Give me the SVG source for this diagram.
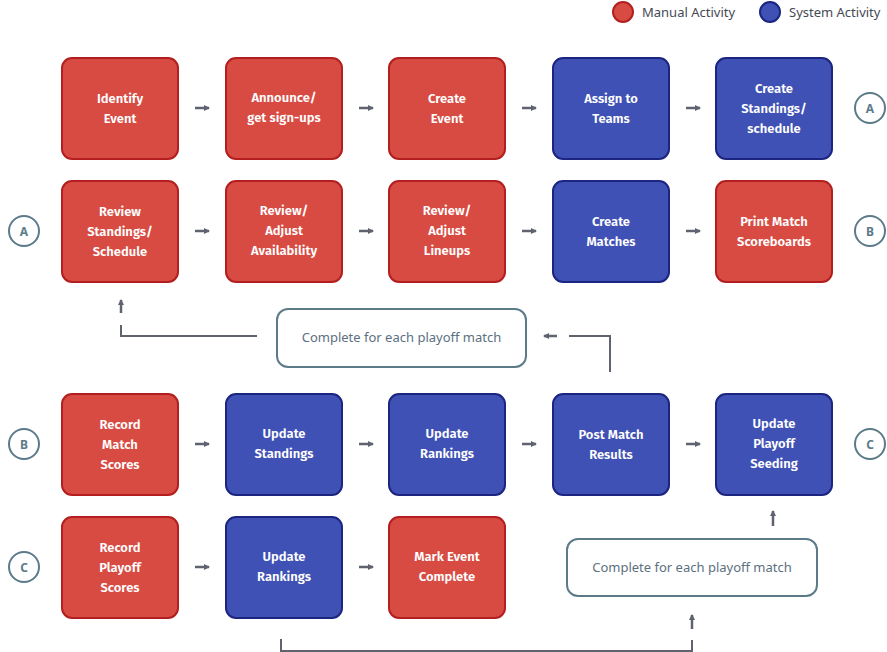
<svg xmlns="http://www.w3.org/2000/svg" width="887" height="652" viewBox="0 0 887 652">
<style>
.bg{fill:#ffffff}
.man{fill:#d84b43;stroke:#b31f1f;stroke-width:2}
.sys{fill:#3f51b5;stroke:#1c2580;stroke-width:2}
.nt{font-family:"Fira Sans","Noto Sans","Open Sans",sans-serif;font-size:13px;font-weight:600;fill:#ffffff;text-anchor:middle}
.circ{fill:#ffffff;stroke:#5c7b89;stroke-width:2}
.ct{font-family:"Noto Sans","Open Sans",sans-serif;font-size:12px;font-weight:700;fill:#5c7b89;text-anchor:middle}
.note{fill:#ffffff;stroke:#5c7b89;stroke-width:2}
.ntx{font-family:"Noto Sans","Open Sans",sans-serif;font-size:13px;fill:#5c7080;text-anchor:middle}
.line{fill:none;stroke:#5f6370;stroke-width:2}
.arr{fill:none;stroke:#5f6370;stroke-width:2.5;marker-end:url(#ah)}
.leg{font-family:"Noto Sans","Open Sans",sans-serif;font-size:13px;fill:#444a55}
</style>
<defs>
<marker id="ah" viewBox="0 0 6 6" refX="5" refY="3" markerWidth="2.4" markerHeight="2.4" orient="auto" markerUnits="strokeWidth">
<path d="M0,0 L6,3 L0,6 Z" fill="#5f6370"/>
</marker>
</defs>
<rect class="bg" width="887" height="652"/>
<g id="legend">
<circle cx="623" cy="12" r="10" class="man"/>
<text x="642" y="16.5" class="leg">Manual Activity</text>
<circle cx="770" cy="12" r="10" class="sys"/>
<text x="789" y="16.5" class="leg">System Activity</text>
</g>
<g id="connectors">
<path class="arr" d="M195,108 H209"/>
<path class="arr" d="M359,108 H373"/>
<path class="arr" d="M522,108 H536"/>
<path class="arr" d="M686,108 H700"/>
<path class="arr" d="M195,231 H209"/>
<path class="arr" d="M359,231 H373"/>
<path class="arr" d="M522,231 H536"/>
<path class="arr" d="M686,231 H700"/>
<path class="arr" d="M195,444 H209"/>
<path class="arr" d="M359,444 H373"/>
<path class="arr" d="M522,444 H536"/>
<path class="arr" d="M686,444 H700"/>
<path class="arr" d="M195,567 H209"/>
<path class="arr" d="M359,567 H373"/>
<path class="line" d="M257,336 H121 V325"/>
<path class="arr" d="M121,313 V300"/>
<path class="line" d="M610,372 V336 H569"/>
<path class="arr" d="M557,336 H544"/>
<path class="line" d="M281,639 V651 H692 V640"/>
<path class="arr" d="M692,629 V615"/>
<path class="arr" d="M773,526 V511"/>
</g>
<g id="n1"><rect x="62" y="58" width="116" height="101" rx="10" class="man"/><text class="nt" x="120" y="103">Identify</text><text class="nt" x="120" y="123">Event</text></g>
<g id="n2"><rect x="226" y="58" width="116" height="101" rx="10" class="man"/><text class="nt" x="284" y="102">Announce/</text><text class="nt" x="284" y="122">get sign-ups</text></g>
<g id="n3"><rect x="389" y="58" width="116" height="101" rx="10" class="man"/><text class="nt" x="447" y="103">Create</text><text class="nt" x="447" y="123">Event</text></g>
<g id="n4"><rect x="553" y="58" width="116" height="101" rx="10" class="sys"/><text class="nt" x="611" y="103">Assign to</text><text class="nt" x="611" y="123">Teams</text></g>
<g id="n5"><rect x="716" y="58" width="116" height="101" rx="10" class="sys"/><text class="nt" x="774" y="93">Create</text><text class="nt" x="774" y="113">Standings/</text><text class="nt" x="774" y="133">schedule</text></g>
<g id="cA1"><circle cx="870" cy="108" r="15" class="circ"/><text class="ct" x="870" y="112.5">A</text></g>
<g id="cA2"><circle cx="24" cy="231" r="15" class="circ"/><text class="ct" x="24" y="235.5">A</text></g>
<g id="n6"><rect x="62" y="181" width="116" height="101" rx="10" class="man"/><text class="nt" x="120" y="216">Review</text><text class="nt" x="120" y="236">Standings/</text><text class="nt" x="120" y="256">Schedule</text></g>
<g id="n7"><rect x="226" y="181" width="116" height="101" rx="10" class="man"/><text class="nt" x="284" y="215">Review/</text><text class="nt" x="284" y="235">Adjust</text><text class="nt" x="284" y="255">Availability</text></g>
<g id="n8"><rect x="389" y="181" width="116" height="101" rx="10" class="man"/><text class="nt" x="447" y="215">Review/</text><text class="nt" x="447" y="235">Adjust</text><text class="nt" x="447" y="255">Lineups</text></g>
<g id="n9"><rect x="553" y="181" width="116" height="101" rx="10" class="sys"/><text class="nt" x="611" y="226">Create</text><text class="nt" x="611" y="246">Matches</text></g>
<g id="n10"><rect x="716" y="181" width="116" height="101" rx="10" class="man"/><text class="nt" x="774" y="226">Print Match</text><text class="nt" x="774" y="246">Scoreboards</text></g>
<g id="cB1"><circle cx="870" cy="231" r="15" class="circ"/><text class="ct" x="870" y="235.5">B</text></g>
<g id="note1"><rect x="277" y="309" width="249" height="58" rx="11" class="note"/><text class="ntx" x="401.5" y="342">Complete for each playoff match</text></g>
<g id="cB2"><circle cx="24" cy="444" r="15" class="circ"/><text class="ct" x="24" y="448.5">B</text></g>
<g id="n11"><rect x="62" y="394" width="116" height="101" rx="10" class="man"/><text class="nt" x="120" y="429">Record</text><text class="nt" x="120" y="449">Match</text><text class="nt" x="120" y="469">Scores</text></g>
<g id="n12"><rect x="226" y="394" width="116" height="101" rx="10" class="sys"/><text class="nt" x="284" y="438">Update</text><text class="nt" x="284" y="458">Standings</text></g>
<g id="n13"><rect x="389" y="394" width="116" height="101" rx="10" class="sys"/><text class="nt" x="447" y="438">Update</text><text class="nt" x="447" y="458">Rankings</text></g>
<g id="n14"><rect x="553" y="394" width="116" height="101" rx="10" class="sys"/><text class="nt" x="611" y="439">Post Match</text><text class="nt" x="611" y="459">Results</text></g>
<g id="n15"><rect x="716" y="394" width="116" height="101" rx="10" class="sys"/><text class="nt" x="774" y="428">Update</text><text class="nt" x="774" y="448">Playoff</text><text class="nt" x="774" y="468">Seeding</text></g>
<g id="cC1"><circle cx="870" cy="444" r="15" class="circ"/><text class="ct" x="870" y="448.5">C</text></g>
<g id="cC2"><circle cx="24" cy="567" r="15" class="circ"/><text class="ct" x="24" y="571.5">C</text></g>
<g id="n16"><rect x="62" y="517" width="116" height="101" rx="10" class="man"/><text class="nt" x="120" y="552">Record</text><text class="nt" x="120" y="572">Playoff</text><text class="nt" x="120" y="592">Scores</text></g>
<g id="n17"><rect x="226" y="517" width="116" height="101" rx="10" class="sys"/><text class="nt" x="284" y="561">Update</text><text class="nt" x="284" y="581">Rankings</text></g>
<g id="n18"><rect x="389" y="517" width="116" height="101" rx="10" class="man"/><text class="nt" x="447" y="561">Mark Event</text><text class="nt" x="447" y="581">Complete</text></g>
<g id="note2"><rect x="567" y="539" width="250" height="57" rx="11" class="note"/><text class="ntx" x="692" y="571.5">Complete for each playoff match</text></g>
</svg>
